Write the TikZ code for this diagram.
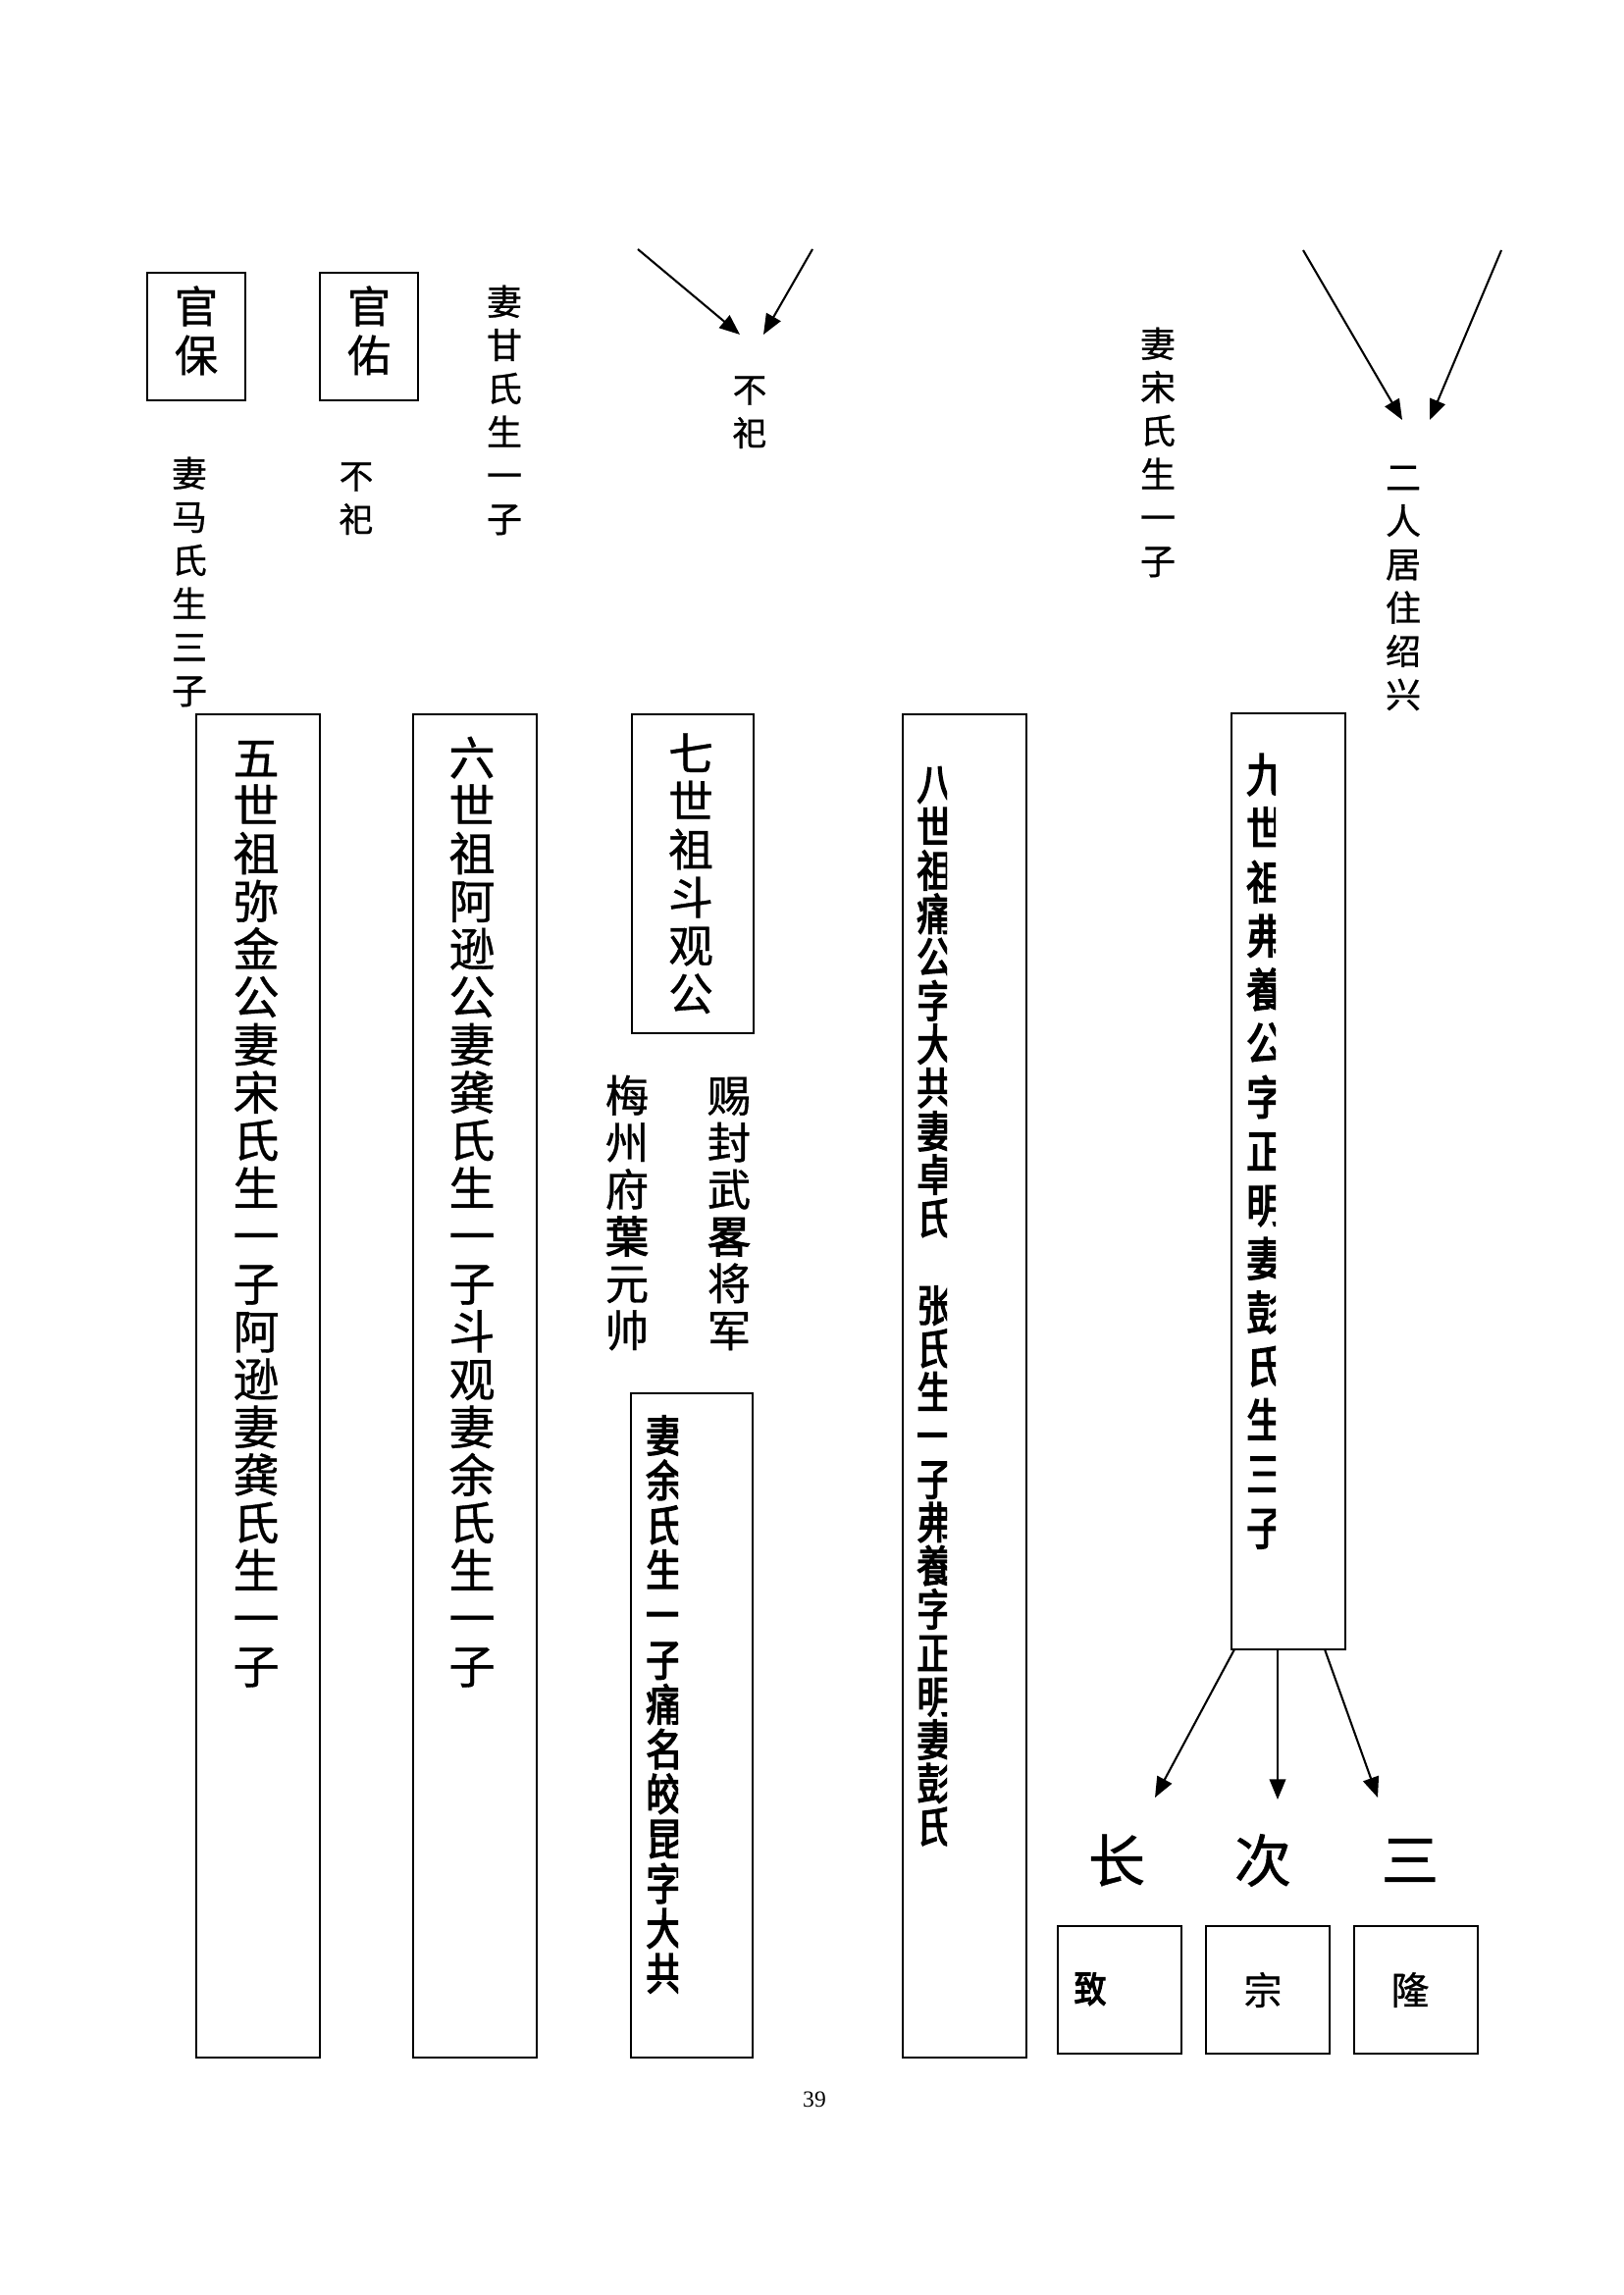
\documentclass[tikz,border=0pt]{standalone}
\usepackage{fontspec}
\usepackage{graphicx}
\usetikzlibrary{arrows.meta,fit}
\setmainfont{Liberation Serif}
\newfontfamily\cjk[FakeBold=0.8]{Noto Sans CJK SC}
\newfontfamily\cjkb[FakeBold=2.5]{Noto Sans CJK SC}
\newfontfamily\cjkn[FakeBold=3,FakeStretch=0.85]{Noto Sans CJK SC}
\makeatletter
\newcommand\vtxt[2]{\vbox{\offinterlineskip\@tfor\vt@c:=#2\do{\hbox to 1.3em{\hss\vbox to #1{\vss\hbox{\vrule width 0pt height .88em depth .12em\vt@c}\vss}\hss}}}}
\makeatother
\tikzset{
  box/.style={draw, line width=0.8pt, inner sep=0pt},
  txt/.style={inner sep=0pt, anchor=center, font=\cjk},
  btxt/.style={inner sep=0pt, anchor=center, font=\cjkn},
  arr/.style={draw, line width=0.75pt, -{Triangle[length=7.5pt,width=6pt]}},
}
\begin{document}
\begin{tikzpicture}[x=0.0127cm,y=-0.0127cm]
\fill[white] (0,0) rectangle (1654,2339);
\useasboundingbox (0,0) rectangle (1654,2339);

% ---------- top row ----------
\node[box, fit={(150,278)(250,408)}] (bguanbao) {};
\node[txt] (tguanbao) at (200,337) {\fontsize{16pt}{16pt}\selectfont\vtxt{18pt}{官保}};
\node[box, fit={(326,278)(426,408)}] (bguanyou) {};
\node[txt] (tguanyou) at (376,337) {\fontsize{16pt}{16pt}\selectfont\vtxt{18pt}{官佑}};

\node[txt] (tqima) at (193,593) {\fontsize{13pt}{13pt}\selectfont\vtxt{16pt}{妻马氏生三子}};
\node[txt] (tbusi1) at (363,507) {\fontsize{12.5pt}{12.5pt}\selectfont\vtxt{16pt}{不祀}};
\node[txt] (tqigan) at (514,418) {\fontsize{13pt}{13pt}\selectfont\vtxt{16pt}{妻甘氏生一子}};
\node[txt] (tbusi2) at (764,419) {\fontsize{12.5pt}{12.5pt}\selectfont\vtxt{16pt}{不祀}};
\node[txt] (tqisong) at (1180,461) {\fontsize{13pt}{13pt}\selectfont\vtxt{16pt}{妻宋氏生一子}};
\node[txt] (terren) at (1430,597) {\fontsize{13pt}{13pt}\selectfont\vtxt{16pt}{二人居住绍兴}};

\coordinate (a1s) at (650,254);
\coordinate (a1e) at (754,341);
\coordinate (a2s) at (828,254);
\coordinate (a2e) at (778,341);
\coordinate (a3s) at (1328,255);
\coordinate (a3e) at (1429,428);
\coordinate (a4s) at (1530,255);
\coordinate (a4e) at (1457,428);
\draw[arr] (a1s) -- (a1e);
\draw[arr] (a2s) -- (a2e);
\draw[arr] (a3s) -- (a3e);
\draw[arr] (a4s) -- (a4e);

% ---------- main columns ----------
\node[box, fit={(200,728)(326,2097)}] (b5) {};
\node[txt] (t5) at (261,1235) {\fontsize{17pt}{17pt}\selectfont\vtxt{17.6pt}{五世祖弥金公妻宋氏生一子阿逊妻龚氏生一子}};

\node[box, fit={(421,728)(547,2097)}] (b6) {};
\node[txt] (t6) at (481,1235) {\fontsize{17pt}{17pt}\selectfont\vtxt{17.6pt}{六世祖阿逊公妻龚氏生一子斗观妻余氏生一子}};

\node[box, fit={(644,728)(768,1053)}] (b7) {};
\node[txt] (t7) at (704,890) {\fontsize{16.5pt}{16.5pt}\selectfont\vtxt{17.7pt}{七世祖斗观公}};

\node[txt] (tmei) at (639,1236) {\fontsize{16pt}{16pt}\selectfont\vtxt{17.3pt}{梅州府{\cjkb 葉}元帅}};
\node[txt] (tci) at (743,1236) {\fontsize{16pt}{16pt}\selectfont\vtxt{17.3pt}{赐封武{\cjkb 畧}将军}};

\node[box, fit={(643,1420)(767,2097)}] (b7b) {};
\begin{scope}
\clip (640,1400) rectangle (691,2080);
\node[btxt] (t7b) at (677,1737) {\fontsize{16pt}{16pt}\selectfont\vtxt{16.5pt}{妻余氏生一子痛名皎昆字大共}};
\end{scope}

\node[box, fit={(920,728)(1046,2097)}] (b8) {};
\begin{scope}
\clip (925,735) rectangle (965,2000);
\node[btxt] (t8) at (953,1330) {\fontsize{16pt}{16pt}\selectfont\vtxt{16pt}{八世祖痛公字大共妻卓氏　张氏生一子弗養字正明妻彭氏}};
\end{scope}

\node[box, fit={(1255,727)(1371,1681)}] (b9) {};
\begin{scope}
\clip (1262,735) rectangle (1300,1660);
\node[btxt] (t9) at (1290,1173) {\fontsize{17pt}{17pt}\selectfont\vtxt{19.8pt}{九世祖弗養公字正明妻彭氏生三子}};
\end{scope}

% ---------- sons ----------
\coordinate (s1s) at (1258,1681);
\coordinate (s1e) at (1177,1832);
\coordinate (s2s) at (1302,1681);
\coordinate (s2e) at (1302,1834);
\coordinate (s3s) at (1350,1681);
\coordinate (s3e) at (1404,1832);
\draw[arr] (s1s) -- (s1e);
\draw[arr] (s2s) -- (s2e);
\draw[arr] (s3s) -- (s3e);

\node[txt] (tzhang) at (1138,1896) {\fontsize{21pt}{21pt}\selectfont 长};
\node[txt] (tci2) at (1287,1896) {\fontsize{21pt}{21pt}\selectfont 次};
\node[txt] (tsan) at (1437,1896) {\fontsize{21pt}{21pt}\selectfont 三};

\node[box, fit={(1078,1963)(1204,2093)}] (bs1) {};
\node[box, fit={(1229,1963)(1355,2093)}] (bs2) {};
\node[box, fit={(1380,1963)(1506,2093)}] (bs3) {};
\begin{scope}
\clip (1090,2010) rectangle (1140,2060);
\node[btxt] (ts1) at (1111,2026) {\fontsize{14pt}{14pt}\selectfont 致};
\end{scope}
\node[txt] (ts2) at (1287,2028) {\fontsize{14pt}{14pt}\selectfont 宗};
\node[txt] (ts3) at (1437,2028) {\fontsize{14pt}{14pt}\selectfont 隆};

\node[inner sep=0pt] (pg) at (830,2140) {\fontsize{8.5pt}{10pt}\selectfont 39};
\end{tikzpicture}
\end{document}
